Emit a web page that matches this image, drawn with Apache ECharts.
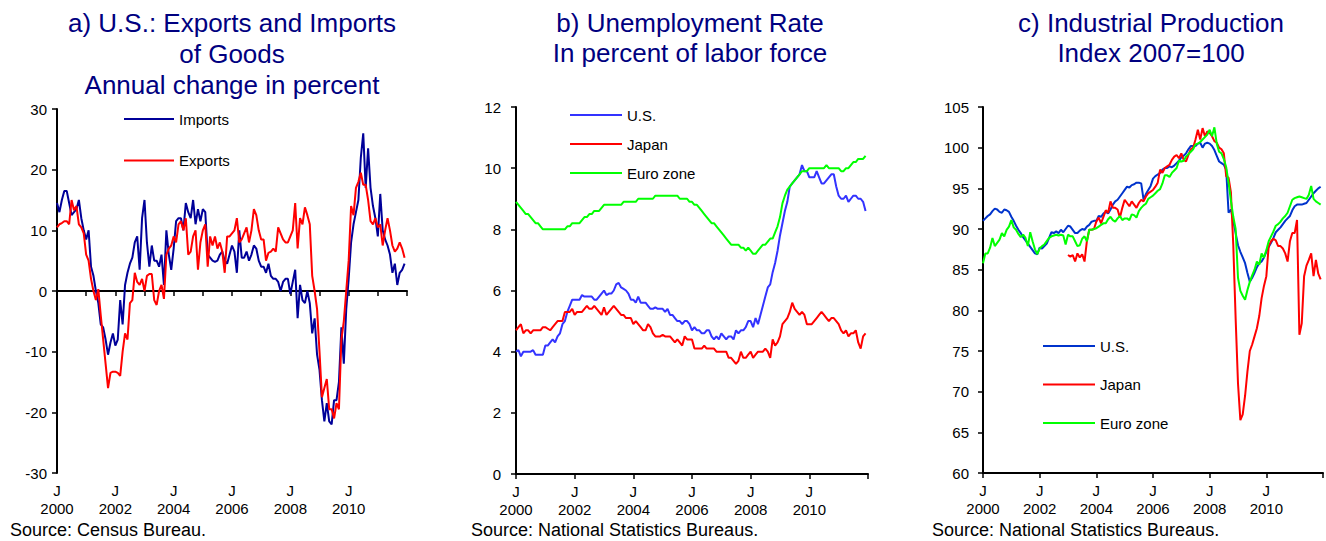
<!DOCTYPE html>
<html>
<head>
<meta charset="utf-8">
<script src="https://cdn.jsdelivr.net/npm/echarts/dist/echarts.min.js"></script>
<style>
html,body{margin:0;padding:0;background:#fff;}
#c{width:1326px;height:541px;}
</style>
</head>
<body>
<div id="c"></div>
<script>
// ---------- DATA (monthly, Jan 2000 = month 0) ----------
const yearTicks = [2000, 2002, 2004, 2006, 2008, 2010];

// a) U.S. exports and imports of goods, annual % change
const usImports = [
  14.5,13,15,16.5,16.5,14.5,12.5,13,13.5,15,12,10,
  8.5,10,4,2.5,0,-2,-5.5,-6,-8,-10.5,-8.5,-7,
  -9,-8,-1.5,-5.5,1,3,4.5,5.5,8,9,3.5,12,
  15,8,4,7.5,5,5,4,6,1,10,6,3.5,
  7,11.5,12,12,10,14.5,13,12,15,11,13.5,11.5,
  13.5,13,6,5.5,5,4.8,5,6,6.5,5,4.5,6,
  7.5,6.5,3,10,5.5,5.5,6.5,5,6,7.5,7,5,
  4,4,3,4.5,2.5,2,2,1.5,0,1.5,2,2,
  -0.5,1.5,3.5,-4.5,1,-1.5,-2,0,-2,-7,-4.5,-10.5,
  -13,-18,-21.5,-18.5,-21.5,-22,-18,-18,-15,-6,-12,-3,
  2,8,11,13,15,22,26,17,23.5,17,14,12,
  9,16,10,8.5,7.5,6,3,4.5,1,3,3.5,4.5
];
const usExports = [
  10.5,11,11.2,11.5,11.5,11,15,13.3,14,11,10.5,9.5,
  6,5,2,0,-1.5,0.3,-4,-8,-12,-16,-13.5,-13.3,
  -13.3,-13.5,-14,-10,-7,-8,-2,-1.5,3,1.5,1,2,
  0,2.5,2.8,2.8,-1.5,-2.3,0,1,-1.3,6,7,7.5,
  9,8,11,11.5,10,12,6,6.5,9,10,3.5,8,
  10,11,4,9,7.5,9,7,8,6.5,3,9,9,
  9.5,10,12,8,8.5,9.5,10.5,8,10,13.5,12.5,10,
  8.5,8.5,5,6.3,6.5,7,6.5,10.5,9.5,8.5,8,8,
  9,10,14.5,7,12,11,13.8,12.5,11,2.5,0,-3,
  -10,-17.5,-16,-14.5,-19.5,-19.5,-21,-18.5,-19.5,-8,-5,0,
  5,14,12.5,17,18,19.5,17.5,17.5,15,11.5,11,12,
  10.5,11,7.5,10,12,10,7.5,6.5,7,8,7,5.5
];

// b) Unemployment rate, % of labor force
const unempUS = [
  4.0,4.05,3.85,4.0,4.0,4.0,4.0,4.05,3.9,3.9,3.9,3.9,
  4.2,4.2,4.3,4.4,4.3,4.5,4.6,4.9,5.0,5.3,5.5,5.7,
  5.7,5.7,5.7,5.85,5.8,5.8,5.8,5.8,5.7,5.7,5.8,5.9,
  6.0,5.85,5.9,5.9,6.0,6.2,6.25,6.1,6.05,6.0,5.9,5.7,
  5.7,5.6,5.8,5.6,5.6,5.6,5.5,5.4,5.4,5.45,5.4,5.4,
  5.4,5.3,5.4,5.2,5.2,5.1,5.0,5.0,4.9,5.0,5.0,4.9,
  4.7,4.8,4.7,4.7,4.6,4.6,4.7,4.7,4.5,4.4,4.5,4.4,
  4.6,4.5,4.4,4.5,4.5,4.4,4.7,4.6,4.7,4.7,4.8,5.0,
  5.0,4.8,5.1,4.9,5.2,5.5,5.8,6.1,6.2,6.6,6.9,7.3,
  7.8,8.2,8.6,8.9,9.4,9.5,9.6,9.7,9.8,10.1,9.9,9.9,
  9.7,9.7,9.7,9.9,9.7,9.5,9.5,9.6,9.7,9.8,9.8,9.4,
  9.1,9.0,9.0,9.1,8.9,9.0,9.1,9.1,9.0,9.0,8.9,8.6
];
const unempJapan = [
  4.7,4.8,4.9,4.6,4.7,4.7,4.6,4.7,4.7,4.7,4.7,4.8,
  4.8,4.75,4.7,4.8,4.9,5.0,5.0,5.0,5.3,5.3,5.3,5.4,
  5.2,5.3,5.3,5.3,5.4,5.5,5.4,5.4,5.5,5.4,5.3,5.2,
  5.45,5.2,5.3,5.4,5.5,5.4,5.3,5.2,5.2,5.1,5.1,5.1,
  4.9,5.0,4.9,4.8,4.7,4.7,4.9,4.8,4.6,4.5,4.5,4.5,
  4.55,4.5,4.5,4.5,4.4,4.3,4.4,4.3,4.2,4.5,4.4,4.4,
  4.4,4.1,4.1,4.1,4.1,4.2,4.1,4.1,4.1,4.1,4.0,4.0,
  4.0,4.0,4.0,3.8,3.8,3.7,3.6,3.7,4.0,3.8,3.8,3.9,
  4.0,3.8,3.9,4.0,4.0,4.0,4.1,4.0,3.8,4.4,4.2,4.3,
  4.5,4.9,5.0,5.1,5.3,5.6,5.4,5.3,5.2,5.3,5.2,4.9,
  4.9,4.9,5.0,5.1,5.2,5.3,5.2,5.1,5.0,5.1,5.1,5.0,
  4.9,4.7,4.6,4.7,4.5,4.6,4.6,4.7,4.3,4.1,4.5,4.6
];
const unempEuro = [
  8.9,8.8,8.7,8.6,8.5,8.5,8.4,8.3,8.2,8.2,8.1,8.0,
  8.0,8.0,8.0,8.0,8.0,8.0,8.0,8.0,8.0,8.1,8.1,8.2,
  8.2,8.2,8.2,8.3,8.4,8.4,8.5,8.5,8.6,8.6,8.6,8.7,
  8.8,8.8,8.8,8.8,8.8,8.8,8.8,8.8,8.9,8.9,8.9,8.9,
  8.9,8.9,9.0,9.0,9.0,9.0,9.0,9.0,9.0,9.1,9.1,9.1,
  9.1,9.1,9.1,9.1,9.1,9.1,9.1,9.0,9.0,9.0,9.0,8.9,
  8.9,8.8,8.8,8.7,8.6,8.5,8.4,8.3,8.2,8.2,8.1,8.0,
  7.9,7.8,7.7,7.6,7.5,7.5,7.5,7.5,7.4,7.4,7.3,7.4,
  7.3,7.2,7.2,7.3,7.4,7.5,7.5,7.6,7.7,7.7,7.9,8.1,
  8.4,8.85,9.1,9.3,9.4,9.5,9.6,9.7,9.8,9.9,9.9,9.9,
  10.0,10.0,10.0,10.0,10.0,10.0,10.0,10.1,10.0,10.0,10.0,10.0,
  10.0,9.9,9.9,10.0,10.0,10.1,10.2,10.2,10.3,10.3,10.3,10.4
];

// c) Industrial production, index 2007=100
const ipUS = [
  91.0,91.3,91.6,91.8,92.2,92.5,92.4,92.1,92.0,92.4,92.3,92.1,
  91.5,91.0,90.4,89.9,89.5,89.0,88.6,88.2,87.8,87.4,87.0,86.9,
  87.7,87.6,87.9,88.2,88.9,89.6,89.5,89.7,89.5,89.9,89.6,90.0,
  90.4,90.3,89.9,89.5,89.5,89.8,90.0,89.9,90.3,90.5,90.9,91.0,
  91.0,91.6,91.5,91.9,92.1,91.9,92.4,93.0,93.4,93.6,94.0,94.4,
  94.8,95.2,95.1,95.4,95.5,95.7,95.7,95.6,93.6,94.3,94.8,95.3,
  96.2,96.5,96.7,96.9,97.3,97.5,97.5,97.7,97.6,97.8,98.1,98.4,
  98.8,99.0,99.3,99.8,100.2,100.2,100.2,100.5,100.6,100.0,100.5,100.6,
  100.5,100.2,99.7,99.0,98.3,98.1,97.9,97.3,92.0,92.4,91.0,89.5,
  88.0,87.2,86.5,85.8,84.6,83.5,84.0,84.6,85.3,85.8,86.0,86.5,
  87.2,87.8,88.3,88.9,89.6,89.9,90.2,90.6,91.0,91.3,91.6,92.3,
  92.8,93.0,93.0,93.0,93.1,93.2,93.6,94.0,94.4,94.7,95.0,95.2
];
const ipJapanFirstMonth = 36; // series starts Jan 2003
const ipJapan = [
  86.8,86.6,86.8,86.0,87.0,86.5,86.9,86.0,88.5,89.9,89.9,90.0,
  90.9,91.4,90.7,91.5,92.3,92.0,93.4,92.6,92.6,92.4,91.4,92.6,
  93.6,93.2,92.8,93.4,93.0,92.6,93.2,93.6,93.4,94.0,94.4,94.6,
  94.8,95.2,95.7,97.3,96.9,97.5,97.7,97.9,98.5,98.9,99.1,98.7,
  99.3,98.5,98.3,99.1,99.8,100.0,101.0,102.2,101.0,102.4,101.4,102.0,
  101.8,101.4,100.8,100.6,100.0,99.8,99.3,96.5,96.3,94.5,88.0,79.0,
  71.0,66.5,67.2,69.5,72.5,75.0,75.8,76.8,77.8,79.3,81.5,83.0,
  84.2,87.9,88.5,88.8,88.6,87.9,87.9,87.6,87.0,86.0,88.5,89.5,
  89.5,91.1,77.0,78.4,84.2,85.5,86.2,87.0,84.2,86.2,84.5,83.8
];
const ipEuro = [
  85.8,87.0,87.0,87.7,88.9,87.9,88.3,88.7,89.5,89.1,89.9,90.3,
  91.1,90.2,89.9,89.4,89.0,89.3,88.9,87.9,89.6,88.5,87.5,86.9,
  87.6,87.9,88.1,88.5,88.9,89.1,89.2,89.3,89.2,89.3,89.2,88.1,
  89.3,89.1,89.1,88.5,87.9,88.0,88.8,89.1,88.5,89.9,89.9,90.0,
  90.1,90.3,90.5,90.7,90.7,91.2,91.5,91.1,90.9,91.3,91.6,91.1,
  91.3,91.3,91.1,91.8,91.7,91.4,92.2,92.6,92.9,93.1,93.7,93.9,
  94.1,94.4,94.7,94.9,95.6,96.6,96.6,96.4,96.9,97.2,97.5,98.4,
  98.3,98.4,98.9,99.2,99.5,99.8,100.4,100.5,100.7,101.0,101.3,101.6,
  102.2,101.4,102.5,100.5,99.5,99.3,98.6,97.6,95.7,93.5,91.5,90.0,
  84.0,82.4,81.8,81.3,82.5,83.5,84.3,85.0,86.0,85.6,87.0,86.5,
  87.4,88.5,89.1,89.7,90.4,90.6,90.9,91.3,91.6,92.0,92.8,93.6,
  93.8,93.9,94.0,93.9,93.8,93.7,94.2,95.3,93.7,93.4,93.2,93.0
];

const titles = [
  'a) U.S.: Exports and Imports\nof Goods\nAnnual change in percent',
  'b) Unemployment Rate\nIn percent of labor force',
  'c) Industrial Production\nIndex 2007=100'
];
const sources = ['Source: Census Bureau.', 'Source: National Statistics Bureaus.', 'Source: National Statistics Bureaus.'];

// ---------- STYLE ----------
const FONT = '"Liberation Sans", Arial, sans-serif';
const NAVY = '#000080';
const C_IMP = '#000099', C_EXP = '#ff0000';
const C_US_B = '#3333ff', C_US_C = '#0033cc', C_JP = '#ff0000', C_EU = '#00ff00';
const MONTHS_SPAN = 144;

function toPairs(values, start) {
  start = start || 0;
  return values.map(function (v, i) { return [start + i, v]; });
}
function monthLabel(v) {
  if (v % 24 === 0 && v < MONTHS_SPAN) {
    const yr = 2000 + v / 12;
    if (yearTicks.indexOf(yr) >= 0) return 'J\n' + yr;
  }
  return '';
}
const axisLineStyle = { color: '#000', width: 2 };
const xLabel = { show: true, formatter: monthLabel, color: '#000', fontSize: 15, fontFamily: FONT, lineHeight: 18, margin: 8 };

function yAxisOf(grid, min, max, interval, margin) {
  return {
    type: 'value', gridIndex: grid, min: min, max: max, interval: interval,
    axisLine: { show: true, onZero: false, lineStyle: axisLineStyle },
    axisTick: { show: true, inside: false, length: 5, lineStyle: { color: '#000', width: 1.5 } },
    axisLabel: { show: true, color: '#000', fontSize: 15, fontFamily: FONT, margin: margin },
    splitLine: { show: false }
  };
}
function lineSeries(name, xi, yi, data, color) {
  return {
    type: 'line', name: name, xAxisIndex: xi, yAxisIndex: yi, data: data,
    showSymbol: false, symbol: 'none', animation: false,
    lineStyle: { color: color, width: 2 }, itemStyle: { color: color },
    emphasis: { disabled: true }
  };
}
function legendOf(left, top, gap, width, items) {
  return {
    left: left, top: top, orient: 'vertical', padding: 0, itemGap: gap,
    itemWidth: width, itemHeight: 2, icon: 'rect', selectedMode: false,
    textStyle: { fontSize: 15, lineHeight: 18, color: '#000', fontFamily: FONT },
    data: items.map(function (it) { return { name: it[0], itemStyle: { color: it[1], borderWidth: 0 } }; })
  };
}
function textEl(x, y, text, color, size, lh, align, vAlign) {
  return {
    type: 'text', x: x, y: y, silent: true,
    style: { text: text, fill: color, fontSize: size, fontFamily: FONT, lineHeight: lh,
             align: align, textAlign: align, verticalAlign: vAlign, textVerticalAlign: vAlign }
  };
}

const chart = echarts.init(document.getElementById('c'), null, { renderer: 'svg' });
chart.setOption({
  backgroundColor: '#ffffff',
  animation: false,
  grid: [
    { left: 57, top: 109, width: 350, height: 364 },
    { left: 516, top: 107, width: 352, height: 367 },
    { left: 983, top: 107, width: 347, height: 366 }
  ],
  xAxis: [
    { type: 'value', gridIndex: 0, min: 0, max: MONTHS_SPAN, interval: 12,
      axisLine: { show: true, onZero: true, lineStyle: axisLineStyle },
      axisTick: { show: true, length: 5, lineStyle: { color: '#000', width: 1.5 } },
      axisLabel: { show: false }, splitLine: { show: false } },
    { type: 'value', gridIndex: 0, position: 'bottom', min: 0, max: MONTHS_SPAN, interval: 24,
      axisLine: { show: false, onZero: false }, axisTick: { show: false },
      axisLabel: xLabel, splitLine: { show: false } },
    { type: 'value', gridIndex: 1, position: 'bottom', min: 0, max: MONTHS_SPAN, interval: 24,
      axisLine: { show: true, onZero: false, lineStyle: axisLineStyle },
      axisTick: { show: true, length: 5, lineStyle: { color: '#000', width: 1.5 } },
      axisLabel: xLabel, splitLine: { show: false } },
    { type: 'value', gridIndex: 2, position: 'bottom', min: 0, max: MONTHS_SPAN, interval: 24,
      axisLine: { show: true, onZero: false, lineStyle: axisLineStyle },
      axisTick: { show: true, length: 5, lineStyle: { color: '#000', width: 1.5 } },
      axisLabel: xLabel, splitLine: { show: false } }
  ],
  yAxis: [
    yAxisOf(0, -30, 30, 10, 10),
    yAxisOf(1, 0, 12, 2, 15),
    yAxisOf(2, 60, 105, 5, 14)
  ],
  legend: [
    legendOf(124, 110, 23.5, 50, [['Imports', C_IMP], ['Exports', C_EXP]]),
    legendOf(570, 106, 11, 52, [['U.S.', C_US_B], ['Japan', C_JP], ['Euro zone', C_EU]]),
    legendOf(1043, 337, 20.5, 52, [['U.S.', C_US_C], ['Japan', C_JP], ['Euro zone', C_EU]])
  ],
  series: [
    lineSeries('Imports', 0, 0, toPairs(usImports), C_IMP),
    lineSeries('Exports', 0, 0, toPairs(usExports), C_EXP),
    lineSeries('U.S.', 2, 1, toPairs(unempUS), C_US_B),
    lineSeries('Japan', 2, 1, toPairs(unempJapan), C_JP),
    lineSeries('Euro zone', 2, 1, toPairs(unempEuro), C_EU),
    lineSeries('U.S.', 3, 2, toPairs(ipUS), C_US_C),
    lineSeries('Japan', 3, 2, toPairs(ipJapan, ipJapanFirstMonth), C_JP),
    lineSeries('Euro zone', 3, 2, toPairs(ipEuro), C_EU)
  ],
  graphic: [
    textEl(232, 7.5, titles[0], NAVY, 26, 31, 'center', 'top'),
    textEl(690, 8, titles[1], NAVY, 26, 30, 'center', 'top'),
    textEl(1151, 7.5, titles[2], NAVY, 26, 30, 'center', 'top'),
    textEl(10, 530, sources[0], '#000', 18, 18, 'left', 'middle'),
    textEl(471, 530, sources[1], '#000', 18, 18, 'left', 'middle'),
    textEl(932, 530, sources[2], '#000', 18, 18, 'left', 'middle')
  ]
});
</script>
</body>
</html>
